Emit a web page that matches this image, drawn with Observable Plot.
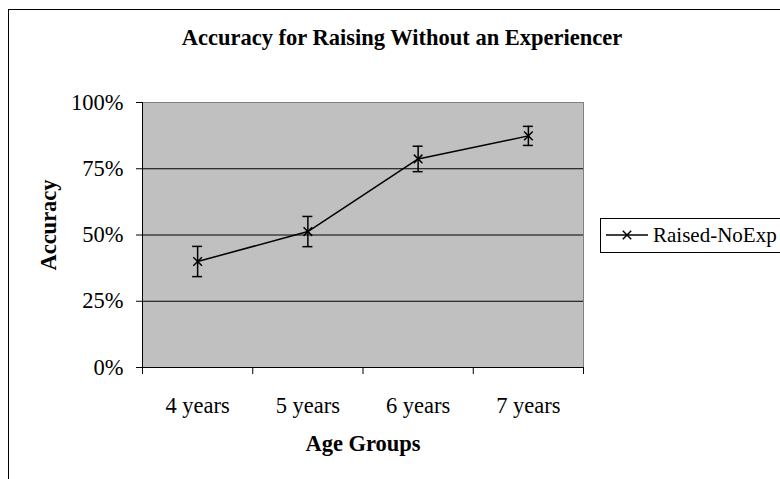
<!DOCTYPE html>
<html><head><meta charset="utf-8">
<script src="https://cdn.jsdelivr.net/npm/d3@7"></script>
<script src="https://cdn.jsdelivr.net/npm/@observablehq/plot@0.6"></script>
<style>
html,body{margin:0;padding:0;background:#fff;overflow:hidden;width:780px;height:479px}
#wrap{position:relative;width:780px;height:479px}
#chart{position:absolute;left:0;top:0}
#border{position:absolute;left:8px;top:9px;width:820px;height:520px;border:1px solid #000;box-sizing:border-box;pointer-events:none}
#legend{position:absolute;left:600px;top:218px;width:220px;height:35px;border:1px solid #000;box-sizing:border-box;background:#fff;font-family:"Liberation Serif","Times New Roman",serif;font-size:21px;white-space:nowrap}
#legend svg{position:absolute;left:3px;top:7px}
#legend span{position:absolute;left:52px;top:4px;line-height:24px}
</style></head>
<body><div id="wrap"><div id="chart"></div><div id="border"></div><div id="legend"></div></div>
<script>
const title = "Accuracy for Raising Without an Experiencer";
const xTitle = "Age Groups";
const yTitle = "Accuracy";
const seriesName = "Raised-NoExp";
const ages = ["4 years", "5 years", "6 years", "7 years"];
const accuracy = [0.400, 0.513, 0.787, 0.874];
const errorMargin = [0.057, 0.057, 0.048, 0.036];
const yTicks = [0, 0.25, 0.5, 0.75, 1];
const yGrid = [0.25, 0.5, 0.75];

const font = '"Liberation Serif","Times New Roman",serif';
const fs = 22.5;
const data = ages.map((a, i) => ({
  age: a, pos: i + 0.5, value: accuracy[i],
  lo: accuracy[i] - errorMargin[i], hi: accuracy[i] + errorMargin[i]
}));
const bounds = d3.range(ages.length + 1);

const chart = Plot.plot({
  width: 780, height: 479,
  marginLeft: 142, marginRight: 197, marginTop: 102, marginBottom: 112,
  style: {fontFamily: font, fontSize: fs + "px", color: "#000", background: "#fff"},
  x: {domain: [0, ages.length]},
  y: {domain: [0, 1]},
  marks: [
    Plot.frame({fill: "#c0c0c0", stroke: "#808080"}),
    Plot.gridY(yGrid, {stroke: "#000", strokeOpacity: 1}),
    Plot.ruleX([0], {stroke: "#000"}),
    Plot.ruleY([0], {stroke: "#000"}),
    Plot.axisY({ticks: yTicks, tickFormat: d3.format(".0%"), tickSize: 6, tickPadding: 13, label: null, fontSize: fs}),
    Plot.axisX({ticks: bounds, tickFormat: () => "", tickSize: 7, label: null}),
    Plot.axisX({ticks: data.map(d => d.pos), tickFormat: v => ages[Math.round(v - 0.5)], tickSize: 0, tickPadding: 30, label: null, fontSize: fs}),
    Plot.ruleX(data, {x: "pos", y1: "lo", y2: "hi", stroke: "#000", strokeWidth: 1.5}),
    Plot.ruleY(data, {y: "lo", x1: "pos", x2: "pos", insetLeft: -5, insetRight: -5, stroke: "#000", strokeWidth: 1.5}),
    Plot.ruleY(data, {y: "hi", x1: "pos", x2: "pos", insetLeft: -5, insetRight: -5, stroke: "#000", strokeWidth: 1.5}),
    Plot.line(data, {x: "pos", y: "value", stroke: "#000", strokeWidth: 1.5}),
    Plot.dot(data, {x: "pos", y: "value", symbol: "times", r: 4, stroke: "#000", strokeWidth: 1.5}),
    Plot.text([title], {text: d => d, frameAnchor: "top", textAnchor: "middle", lineAnchor: "bottom", dx: 39, dy: -58, fontWeight: "bold", fontSize: fs}),
    Plot.text([xTitle], {text: d => d, frameAnchor: "bottom", textAnchor: "middle", lineAnchor: "bottom", dy: 83, fontWeight: "bold", fontSize: fs}),
    Plot.text([yTitle], {text: d => d, frameAnchor: "left", textAnchor: "middle", lineAnchor: "bottom", rotate: -90, dx: -87, dy: -10, fontWeight: "bold", fontSize: fs})
  ]
});
document.getElementById("chart").appendChild(chart);

const legend = document.getElementById("legend");
const ls = d3.create("svg").attr("width", 46).attr("height", 20);
ls.append("line").attr("x1", 2).attr("x2", 44).attr("y1", 9).attr("y2", 9).attr("stroke", "#000").attr("stroke-width", 1.5);
ls.append("path").attr("d", d3.symbol(d3.symbolTimes, 48)()).attr("transform", "translate(23,9)").attr("stroke", "#000").attr("stroke-width", 1.5).attr("fill", "none");
legend.appendChild(ls.node());
const sp = document.createElement("span");
sp.textContent = seriesName;
legend.appendChild(sp);
</script>
</body></html>
